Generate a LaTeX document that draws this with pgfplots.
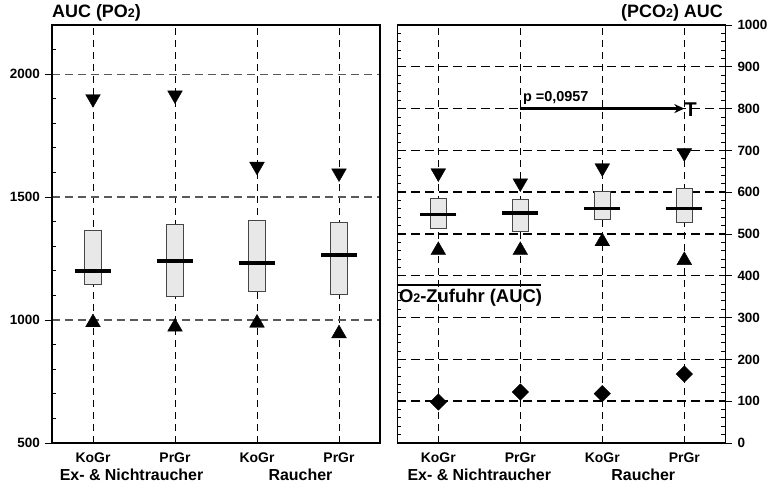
\documentclass[border=0pt]{standalone}
\usepackage{fontspec}
\setmainfont{Liberation Sans}
\usepackage{pgfplots}
\pgfplotsset{compat=1.18}
\usepgfplotslibrary{statistics}
\usetikzlibrary{arrows.meta}
\newcommand{\fs}[1]{\fontsize{#1}{#1}\selectfont\bfseries}
\newcommand{\xl}[1]{{\fs{14}#1}}
\newcommand{\yl}[1]{{\fs{13.5}#1}}
\begin{document}
\begin{tikzpicture}
\useasboundingbox (-52bp,-40bp) rectangle (721bp,443bp);
\pgfplotsset{
  panel/.style={
    width=328bp, height=418bp, scale only axis,
    xmin=0.5, xmax=4.5,
    axis line style={line width=1.1bp, black},
    clip=false,
    boxplot/draw direction=y,
    tick style={line width=0.9bp, black},
  },
  bx/.style={draw=gray!55!black, line width=0.8bp, fill=gray!18, solid},
  med/.style={only marks, mark=-, mark size=18bp, mark options={line width=3.6bp, black}},
  tdown/.style={only marks, mark=triangle*, mark size=8.5bp, mark options={rotate=180, fill=black, draw=black}},
  tup/.style={only marks, mark=triangle*, mark size=8.5bp, mark options={fill=black, draw=black}},
}
% ---------------- left panel ----------------
\begin{axis}[panel, at={(0,0)}, anchor=south west, ymin=500, ymax=2200,
  xtick={1,2,3,4}, xticklabels={\xl{KoGr},\xl{PrGr},\xl{KoGr},\xl{PrGr}},
  xtick style={draw=none},
  ytick={500,1000,1500,2000}, yticklabels={\yl{500},\yl{1000},\yl{1500},\yl{2000}},
  ytick pos=left, tick align=outside, major tick length=7bp,
  ymajorgrids, xmajorgrids,
  y grid style={gray!70!black, dash pattern=on 8bp off 5bp, line width=1.3bp},
  x grid style={black, dash pattern=on 7bp off 5bp, line width=0.9bp},
  xticklabel style={inner sep=0pt, anchor=north, yshift=-3bp},
  yticklabel style={inner sep=0pt, anchor=east, xshift=-5bp},
]
\addplot[bx, boxplot prepared={draw position=1, median=1200, lower quartile=1143, upper quartile=1364, lower whisker=1143, upper whisker=1364, box extend=0.21, whisker extend=0}] coordinates {};
\addplot[bx, boxplot prepared={draw position=2, median=1239, lower quartile=1095, upper quartile=1388, lower whisker=1095, upper whisker=1388, box extend=0.21, whisker extend=0}] coordinates {};
\addplot[bx, boxplot prepared={draw position=3, median=1231, lower quartile=1115, upper quartile=1406, lower whisker=1115, upper whisker=1406, box extend=0.21, whisker extend=0}] coordinates {};
\addplot[bx, boxplot prepared={draw position=4, median=1265, lower quartile=1106, upper quartile=1398, lower whisker=1106, upper whisker=1398, box extend=0.21, whisker extend=0}] coordinates {};
\addplot[med] coordinates {(1,1200) (2,1239) (3,1231) (4,1265)};
\addplot[tdown] coordinates {(1,1900) (2,1915) (3,1625) (4,1598)};
\addplot[tup] coordinates {(1,990) (2,972) (3,988) (4,945)};
\node[anchor=base, inner sep=0pt, font=\fs{16}] at (axis cs:1.47,500) [yshift=-37bp] {Ex- \& Nichtraucher};
\node[anchor=base, inner sep=0pt, font=\fs{16}] at (axis cs:3.53,500) [yshift=-37bp] {Raucher};
\end{axis}
\begin{axis}[panel, at={(0,0)}, anchor=south west, ymin=500, ymax=2200,
  xtick=\empty, ytick={600,700,800,900,1100,1200,1300,1400,1600,1700,1800,1900,2100},
  yticklabels={}, ytick pos=left, tick align=inside, major tick length=4bp]
\end{axis}
% ---------------- right panel ----------------
\begin{axis}[panel, at={(345.3bp,0)}, anchor=south west, ymin=0, ymax=1000,
  xtick={1,2,3,4}, xticklabels={\xl{KoGr},\xl{PrGr},\xl{KoGr},\xl{PrGr}},
  xtick style={draw=none},
  ytick={0,100,...,1000},
  yticklabels={\yl{0},\yl{100},\yl{200},\yl{300},\yl{400},\yl{500},\yl{600},\yl{700},\yl{800},\yl{900},\yl{1000}},
  ytick pos=right, yticklabel pos=right, tick align=outside, major tick length=7bp,
  ymajorgrids, xmajorgrids,
  y grid style={black, dash pattern=on 9bp off 5bp, line width=1.4bp},
  x grid style={black, dash pattern=on 7bp off 5bp, line width=0.9bp},
  xticklabel style={inner sep=0pt, anchor=north, yshift=-3bp},
  yticklabel style={inner sep=0pt, anchor=west, xshift=5bp},
]
\addplot[bx, boxplot prepared={draw position=1, median=547, lower quartile=514, upper quartile=584, lower whisker=514, upper whisker=584, box extend=0.19, whisker extend=0}] coordinates {};
\addplot[bx, boxplot prepared={draw position=2, median=550, lower quartile=507, upper quartile=583, lower whisker=507, upper whisker=583, box extend=0.19, whisker extend=0}] coordinates {};
\addplot[bx, boxplot prepared={draw position=3, median=561, lower quartile=534, upper quartile=601, lower whisker=534, upper whisker=601, box extend=0.19, whisker extend=0}] coordinates {};
\addplot[bx, boxplot prepared={draw position=4, median=561, lower quartile=527, upper quartile=608, lower whisker=527, upper whisker=608, box extend=0.19, whisker extend=0}] coordinates {};
\addplot[med] coordinates {(1,547) (2,550) (3,561) (4,561)};
\addplot[tdown] coordinates {(1,646) (2,622) (3,658) (4,694)};
\addplot[tup] coordinates {(1,461) (2,461) (3,482) (4,437)};
\addplot[only marks, mark=square*, mark size=5.8bp, mark options={rotate=45, fill=black, draw=black}] coordinates {(1,98) (2,122) (3,118) (4,165)};
\addplot[black, line width=3bp, -{Stealth[length=10bp, width=9bp]}] coordinates {(2,800) (4,800)};
\node[anchor=base west, inner sep=0pt, font=\fs{20}] at (axis cs:4,782) {T};
\node[anchor=base west, inner sep=0pt, font=\fs{14.5}] at (axis cs:2,816) [xshift=2.5bp] {p =0,0957};
\addplot[black, line width=1.2bp] coordinates {(0.5,378) (2.25,378)};
\node[anchor=base west, inner sep=0pt, font=\fs{18.5}] at (axis cs:0.5,335) [xshift=1.5bp] {O{\fs{12.5}2}-Zufuhr (AUC)};
\node[anchor=base, inner sep=0pt, font=\fs{16}] at (axis cs:1.5,0) [yshift=-37bp] {Ex- \& Nichtraucher};
\node[anchor=base, inner sep=0pt, font=\fs{16}] at (axis cs:3.5,0) [yshift=-37bp] {Raucher};
\end{axis}
\begin{axis}[panel, at={(345.3bp,0)}, anchor=south west, ymin=0, ymax=1000,
  xtick=\empty, ytick={0,20,...,1000},
  yticklabels={}, ytick pos=both, tick align=inside, major tick length=4bp]
\end{axis}
% titles
\node[anchor=base west, inner sep=0pt, font=\fs{18}] at (0bp,425bp) {AUC (PO{\fs{12.5}2})};
\node[anchor=base east, inner sep=0pt, font=\fs{18}] at (671bp,425bp) {(PCO{\fs{12.5}2}) AUC};
\end{tikzpicture}
\end{document}
